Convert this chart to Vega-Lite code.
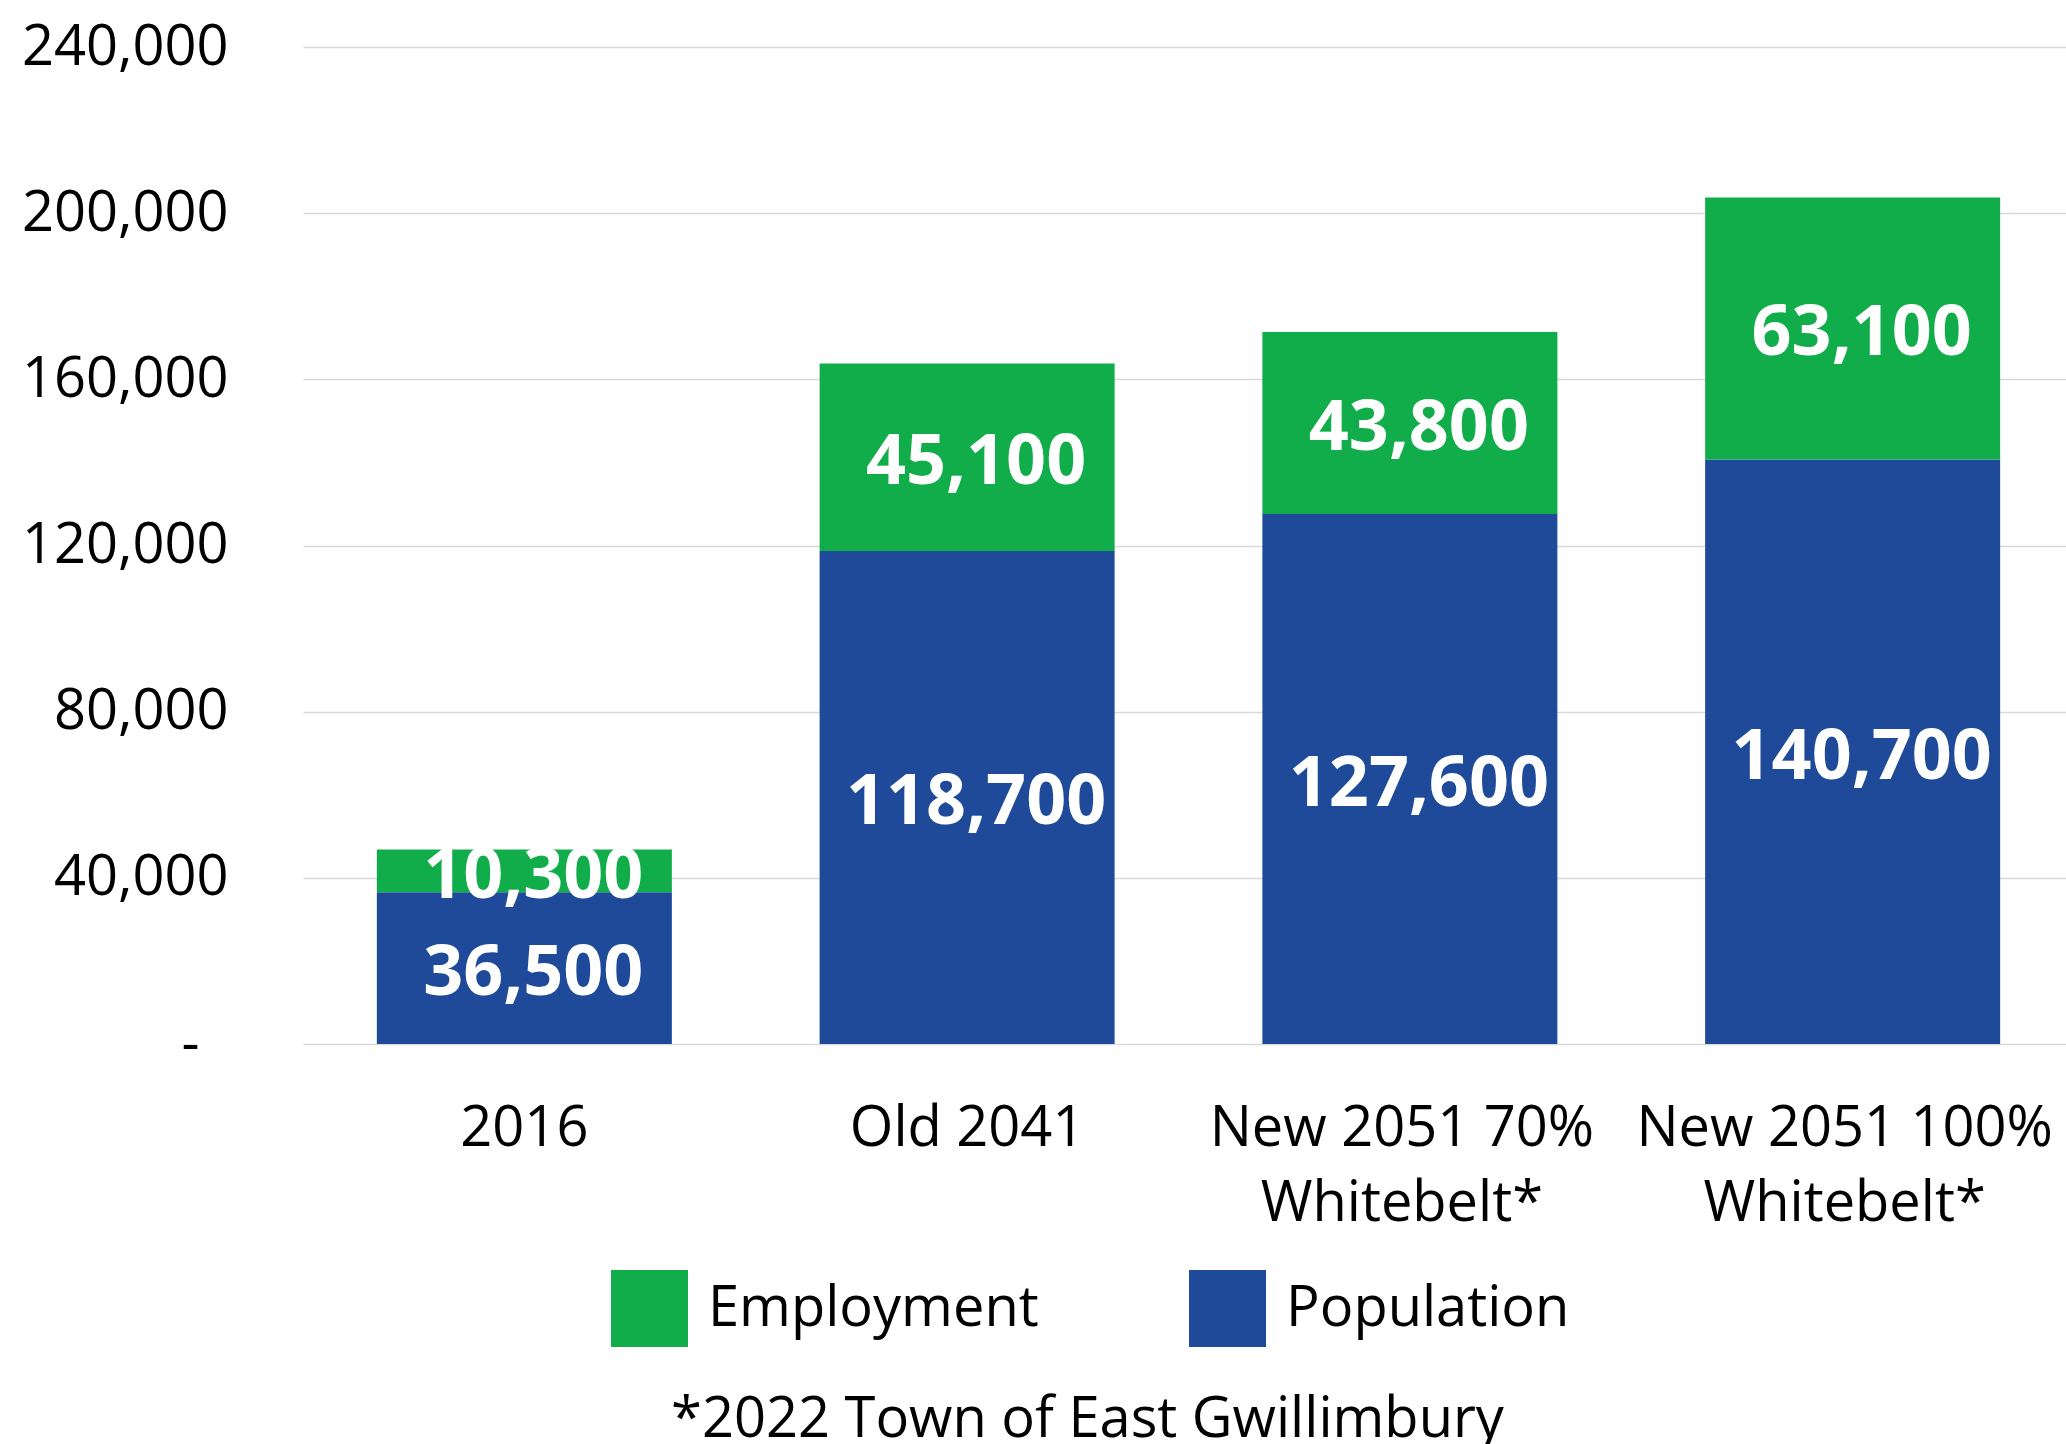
{
  "$schema": "https://vega.github.io/schema/vega-lite/v6.json",
  "width": 1755,
  "height": 997,
  "autosize": "none",
  "padding": {"left": 303, "top": 47, "right": 8, "bottom": 400},
  "background": "white",
  "config": {"view": {"stroke": null}, "font": "Open Sans"},
  "data": {
    "values": [
      {"scenario": "2016", "series": "Population", "value": 36500},
      {"scenario": "2016", "series": "Employment", "value": 10300},
      {"scenario": "Old 2041", "series": "Population", "value": 118700},
      {"scenario": "Old 2041", "series": "Employment", "value": 45100},
      {"scenario": "New 2051 70% Whitebelt*", "series": "Population", "value": 127600},
      {"scenario": "New 2051 70% Whitebelt*", "series": "Employment", "value": 43800},
      {"scenario": "New 2051 100% Whitebelt*", "series": "Population", "value": 140700},
      {"scenario": "New 2051 100% Whitebelt*", "series": "Employment", "value": 63100}
    ]
  },
  "encoding": {
    "x": {
      "field": "scenario",
      "type": "nominal",
      "sort": ["2016", "Old 2041", "New 2051 70% Whitebelt*", "New 2051 100% Whitebelt*"],
      "scale": {"range": [0, 1771], "paddingInner": 0.3337, "paddingOuter": 0.1668},
      "axis": {
        "title": "*2022 Town of East Gwillimbury",
        "titleX": 784,
        "titleY": 375,
        "titleBaseline": "middle",
        "titleFontSize": 56,
        "titleFontWeight": "normal",
        "titleFont": "Open Sans",
        "titleColor": "#000000",
        "labelAngle": 0,
        "labelFont": "Open Sans",
        "labelFontSize": 56,
        "labelColor": "#000000",
        "labelBaseline": "top",
        "labelPadding": 57,
        "labelLineHeight": 75,
        "labelLimit": 1000,
        "labelOverlap": false,
        "labelFlush": false,
        "labelOffset": {"condition": {"test": "indexof(datum.value, 'Whitebelt') > 0", "value": -8}, "value": 0},
        "ticks": false,
        "tickSize": 0,
        "domain": false,
        "labelExpr": "indexof(datum.label, ' Whitebelt*') > 0 ? [replace(datum.label, ' Whitebelt*', ''), 'Whitebelt*'] : datum.label"
      }
    },
    "order": {"field": "series", "sort": "descending"}
  },
  "layer": [
    {
      "mark": {"type": "bar"},
      "encoding": {
        "y": {
          "field": "value",
          "type": "quantitative",
          "stack": "zero",
          "scale": {"domain": [0, 240000]},
          "axis": {
            "title": null,
            "values": [0, 40000, 80000, 120000, 160000, 200000, 240000],
            "labelExpr": "datum.value == 0 ? '-' : format(datum.value, ',')",
            "labelFont": "Open Sans",
            "labelFontSize": 56,
            "labelColor": "#000000",
            "labelLimit": 1000,
            "labelPadding": {"condition": {"test": "datum.value === 0", "value": 104}, "value": 75},
            "ticks": false,
            "tickSize": 0,
            "domain": false,
            "grid": true,
            "gridColor": "#d9d9d9",
            "gridWidth": 1.5
          }
        },
        "color": {
          "field": "series",
          "type": "nominal",
          "scale": {"domain": ["Employment", "Population"], "range": ["#12AD4B", "#1F4A99"]},
          "legend": {
            "title": null,
            "orient": "none",
            "legendX": 308,
            "legendY": 1223,
            "direction": "horizontal",
            "symbolType": "square",
            "symbolSize": 5929,
            "symbolStrokeWidth": 0,
            "symbolOpacity": 1,
            "labelFont": "Open Sans",
            "labelFontSize": 56,
            "labelColor": "#000000",
            "labelOffset": 20,
            "labelLimit": 1000,
            "columnPadding": 150,
            "padding": 0
          }
        }
      }
    },
    {
      "mark": {"type": "text", "font": "Open Sans", "fontSize": 70, "fontWeight": "bold", "dx": 9, "dy": 6, "baseline": "middle"},
      "encoding": {
        "y": {
          "field": "value",
          "type": "quantitative",
          "stack": "zero",
          "bandPosition": 0.5,
          "scale": {"domain": [0, 240000]},
          "axis": {
            "title": null,
            "values": [0, 40000, 80000, 120000, 160000, 200000, 240000],
            "labelExpr": "datum.value == 0 ? '-' : format(datum.value, ',')",
            "labelFont": "Open Sans",
            "labelFontSize": 56,
            "labelColor": "#000000",
            "labelLimit": 1000,
            "labelPadding": {"condition": {"test": "datum.value === 0", "value": 104}, "value": 75},
            "ticks": false,
            "tickSize": 0,
            "domain": false,
            "grid": true,
            "gridColor": "#d9d9d9",
            "gridWidth": 1.5
          }
        },
        "detail": {"field": "series", "type": "nominal"},
        "color": {"value": "#ffffff"},
        "text": {"field": "value", "type": "quantitative", "format": ","}
      }
    }
  ]
}
